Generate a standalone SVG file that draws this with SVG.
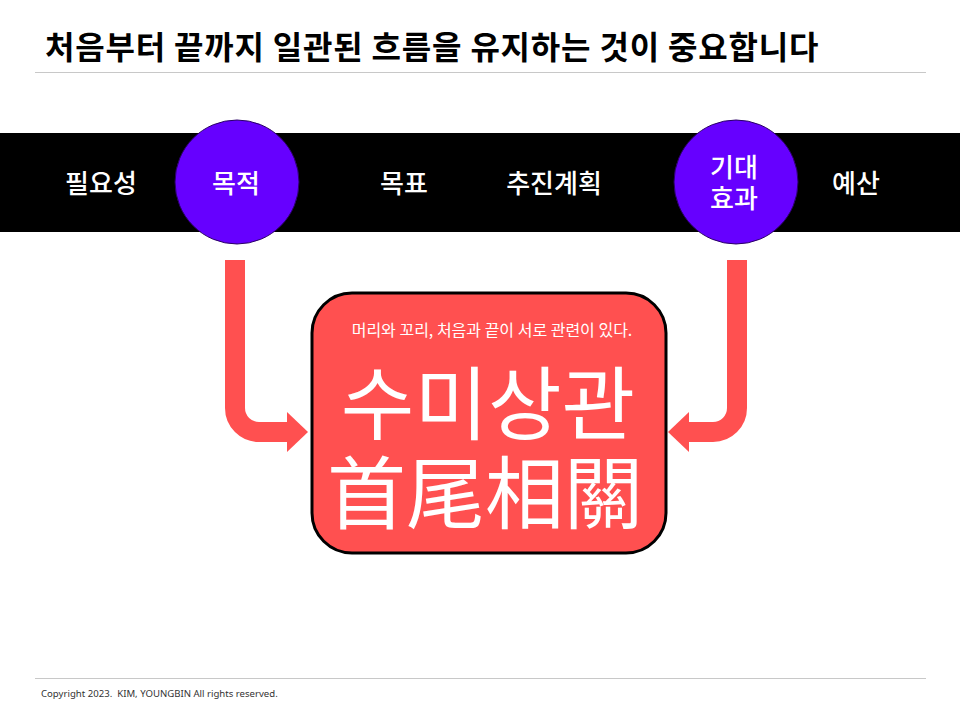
<svg xmlns="http://www.w3.org/2000/svg" width="960" height="720" viewBox="0 0 960 720">
<style>
.kr{font-family:"Noto Sans CJK KR","Noto Sans CJK SC",sans-serif;}
.band-label{font-size:26px;fill:#ffffff;text-anchor:middle;font-weight:500;}
.circle{fill:#6600ff;stroke:#2a0066;stroke-width:1;}
.arrow{fill:none;stroke:#ff5050;stroke-width:20;}
.head{fill:#ff5050;}
.rule{stroke:#c8c8c8;stroke-width:1;}
</style>
<rect width="960" height="720" fill="#ffffff"/>
<g id="title">
<text class="kr" x="45" y="59" font-size="32" font-weight="700" letter-spacing="0.8" fill="#000000">처음부터 끝까지 일관된 흐름을 유지하는 것이 중요합니다</text>
<line class="rule" x1="35" y1="72.5" x2="926" y2="72.5"/>
</g>
<g id="band">
<rect x="0" y="133" width="960" height="99" fill="#000000"/>
</g>
<g id="node-need"><text class="kr band-label" x="101" y="193">필요성</text></g>
<g id="node-purpose">
<circle class="circle" cx="237" cy="182" r="62"/>
<text class="kr band-label" x="236" y="193">목적</text>
</g>
<g id="node-goal"><text class="kr band-label" x="404" y="193">목표</text></g>
<g id="node-plan"><text class="kr band-label" x="554" y="193">추진계획</text></g>
<g id="node-effect">
<circle class="circle" cx="736" cy="182" r="62"/>
<text class="kr band-label" x="734" y="177">기대</text>
<text class="kr band-label" x="734" y="208">효과</text>
</g>
<g id="node-budget"><text class="kr band-label" x="856" y="193">예산</text></g>
<g id="connectors">
<path class="arrow" d="M235 260 V408 A24 24 0 0 0 259 432 H290"/>
<polygon class="head" points="287,412 308,432 287,452"/>
<path class="arrow" d="M737 260 V408 A24 24 0 0 1 713 432 H686"/>
<polygon class="head" points="689,412 668,432 689,452"/>
</g>
<g id="node-center">
<rect x="312" y="293" width="354" height="260" rx="40" ry="40" fill="#ff5050" stroke="#000000" stroke-width="3"/>
<text class="kr" x="492" y="336" font-size="16" fill="#ffffff" text-anchor="middle">머리와 꼬리, 처음과 끝이 서로 관련이 있다.</text>
<text class="kr" x="488" y="433" font-size="80" fill="#ffffff" text-anchor="middle">수미상관</text>
<text class="kr" x="485" y="523" font-size="79" fill="#ffffff" text-anchor="middle" font-family="Noto Sans CJK TC">首尾相關</text>
</g>
<g id="footer">
<line class="rule" x1="35" y1="678.5" x2="926" y2="678.5"/>
<text x="41" y="697" xml:space="preserve" font-family="Noto Sans, sans-serif" font-size="9.6" fill="#333333">Copyright 2023.  KIM, YOUNGBIN All rights reserved.</text>
</g>
</svg>
